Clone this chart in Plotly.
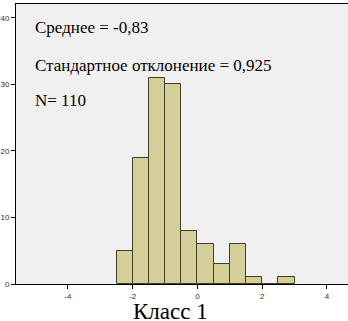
import plotly.graph_objects as go

bin_centers = [-2.25, -1.75, -1.25, -0.75, -0.25, 0.25, 0.75, 1.25, 1.75, 2.25, 2.75]
counts = [5, 19, 31, 30, 8, 6, 3, 6, 1, 0, 1]
x_ticks = [-4, -2, 0, 2, 4]
y_ticks = [0, 10, 20, 30, 40]
stats_lines = ["Среднее = -0,83", "Стандартное отклонение = 0,925", "N= 110"]
x_title = "Класс 1"

fig = go.Figure(go.Bar(
    x=bin_centers, y=counts, width=0.5,
    marker=dict(color="#d4cf99", line=dict(color="#3f3f25", width=1)),
))

serif = "'Liberation Serif', 'Times New Roman', serif"
ann_y = [38.5, 32.9, 27.6]
for txt, yv in zip(stats_lines, ann_y):
    fig.add_annotation(x=-5.07, y=yv, xref="x", yref="y", text=txt, showarrow=False,
                       xanchor="left", yanchor="middle",
                       font=dict(family=serif, size=17, color="black"))

fig.add_annotation(x=(170 - 16) / 332, y=(284 - 311) / 280, xref="paper", yref="paper",
                   text=x_title, showarrow=False, xanchor="center", yanchor="middle",
                   font=dict(family=serif, size=23, color="black"))

tickfont = dict(family="Arial, Liberation Sans, sans-serif", size=8, color="#333")
fig.update_layout(
    width=348, height=321,
    margin=dict(l=16, r=0, t=4, b=37),
    paper_bgcolor="white", plot_bgcolor="#f0f0f0",
    showlegend=False, bargap=0,
    xaxis=dict(range=[-5.606, 4.649], tickvals=x_ticks, ticktext=[str(v) for v in x_ticks],
               showgrid=False, zeroline=False, showline=True, linecolor="black", linewidth=1,
               mirror=True, ticks="outside", ticklen=4, tickcolor="black",
               tickfont=tickfont, automargin=False),
    yaxis=dict(range=[0, 42.1], tickvals=y_ticks, showgrid=False, zeroline=False,
               showline=True, linecolor="black", linewidth=1, ticks="outside", ticklen=4,
               tickcolor="black", tickfont=tickfont, automargin=False),
)

fig.write_html("out.html", config={"displayModeBar": False},
               post_script="document.body.style.margin='0';document.body.style.overflow='hidden';")
